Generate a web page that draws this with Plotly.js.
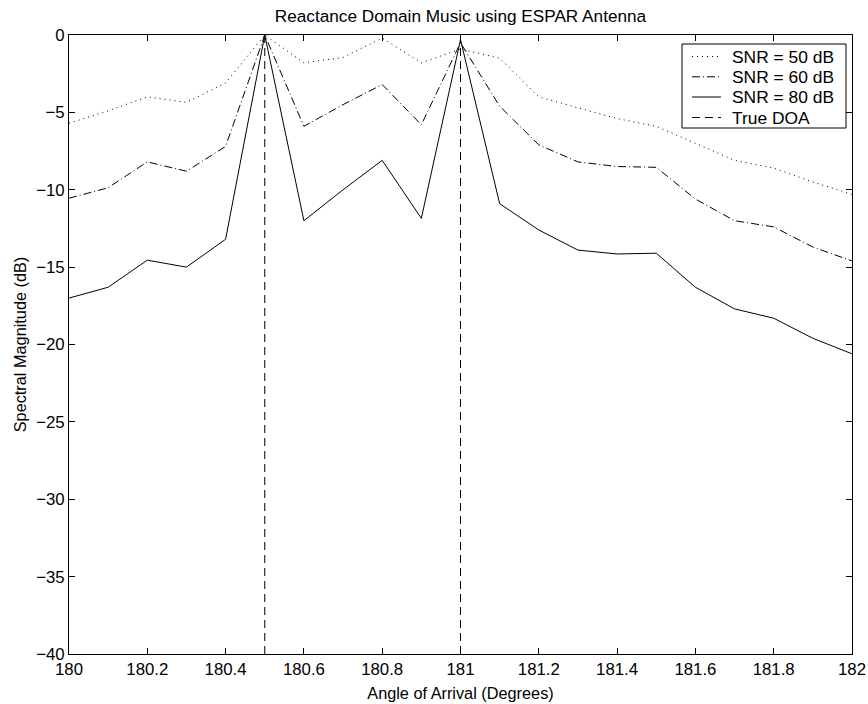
<!DOCTYPE html>
<html>
<head>
<meta charset="utf-8">
<script src="https://cdn.plot.ly/plotly-3.0.1.min.js"></script>
<style>html,body{margin:0;padding:0;background:#fff;}</style>
</head>
<body>
<div id="chart" style="width:868px;height:704px;"></div>
<script>
// Data
const angles = [180.0, 180.1, 180.2, 180.3, 180.4, 180.5, 180.6, 180.7, 180.8, 180.9, 181.0,
                181.1, 181.2, 181.3, 181.4, 181.5, 181.6, 181.7, 181.8, 181.9, 182.0];
const snr50 = [-5.7, -4.9, -4.0, -4.35, -3.1, 0, -1.8, -1.45, -0.2, -1.8, -0.9,
               -1.5, -4.0, -4.7, -5.4, -5.9, -7.0, -8.1, -8.6, -9.5, -10.3];
const snr60 = [-10.55, -9.87, -8.2, -8.8, -7.2, 0, -5.9, -4.5, -3.2, -5.8, -0.5,
               -4.6, -7.1, -8.2, -8.5, -8.55, -10.6, -12.0, -12.4, -13.7, -14.6];
const snr80 = [-17.0, -16.3, -14.55, -15.0, -13.2, 0, -12.0, -10.0, -8.1, -11.85, -0.3,
               -10.9, -12.6, -13.9, -14.15, -14.1, -16.3, -17.7, -18.3, -19.6, -20.6];
const doaAngles = [180.5, 181.0];
const seriesNames = ['SNR = 50 dB', 'SNR = 60 dB', 'SNR = 80 dB', 'True DOA'];
const xTickVals = [180, 180.2, 180.4, 180.6, 180.8, 181, 181.2, 181.4, 181.6, 181.8, 182];
const xTickText = ['180', '180.2', '180.4', '180.6', '180.8', '181', '181.2', '181.4', '181.6', '181.8', '182'];
const yTickVals = [-40, -35, -30, -25, -20, -15, -10, -5, 0];
const yRange = [-40, 0];

const FONT = 'Liberation Sans, Arial, Helvetica, sans-serif';
const W = 868, H = 704;
const M = {l: 69, r: 16, t: 35, b: 50};
const PW = W - M.l - M.r, PH = H - M.t - M.b;
const px2x = p => (p - M.l) / PW;
const px2y = p => (H - M.b - p) / PH;

const doaX = [], doaY = [];
doaAngles.forEach((a, i) => {
  if (i > 0) { doaX.push(null); doaY.push(null); }
  doaX.push(a, a); doaY.push(yRange[1], yRange[0]);
});

const lineStyles = [
  {color: '#000', width: 1, dash: '1px,4px'},
  {color: '#000', width: 1, dash: '8px,3px,1px,3px'},
  {color: '#000', width: 1, dash: 'solid'},
  {color: '#000', width: 1, dash: '8px,5px'}
];

const traces = [
  {x: angles, y: snr50, name: seriesNames[0], mode: 'lines', line: lineStyles[0]},
  {x: angles, y: snr60, name: seriesNames[1], mode: 'lines', line: lineStyles[1]},
  {x: angles, y: snr80, name: seriesNames[2], mode: 'lines', line: lineStyles[2]},
  {x: doaX, y: doaY, name: seriesNames[3], mode: 'lines', line: lineStyles[3]}
];

// Custom MATLAB-style legend box
const legBox = {x0: 682, x1: 846, y0: 44, y1: 128};
const rowCenters = [56.5, 76.8, 97, 117.5];
const shapes = [{
  type: 'rect', xref: 'paper', yref: 'paper',
  x0: px2x(legBox.x0), x1: px2x(legBox.x1), y0: px2y(legBox.y1), y1: px2y(legBox.y0),
  line: {color: '#000', width: 1}, fillcolor: '#fff', layer: 'above'
}];
const annotations = [];
seriesNames.forEach((nm, i) => {
  shapes.push({type: 'line', xref: 'paper', yref: 'paper',
    x0: px2x(692), x1: px2x(721), y0: px2y(rowCenters[i]), y1: px2y(rowCenters[i]),
    line: lineStyles[i], layer: 'above'});
  annotations.push({xref: 'paper', yref: 'paper', x: px2x(730), y: px2y(rowCenters[i]),
    xanchor: 'left', yanchor: 'middle', showarrow: false, text: nm,
    font: {family: FONT, size: 17.4, color: '#000'}});
});

const axisCommon = {
  showline: true, linecolor: '#000', linewidth: 1, mirror: 'ticks',
  ticks: 'inside', ticklen: 6, tickcolor: '#000', tickwidth: 1,
  showgrid: false, zeroline: false,
  tickfont: {family: FONT, size: 16.8, color: '#000'}
};

const layout = {
  width: W, height: H,
  margin: {l: M.l, r: M.r, t: M.t, b: M.b, pad: 0},
  paper_bgcolor: '#fff', plot_bgcolor: '#fff',
  font: {family: FONT, color: '#000', size: 16},
  title: {text: 'Reactance Domain Music using ESPAR Antenna',
          font: {family: FONT, size: 17.2, color: '#000'},
          xref: 'paper', x: 0.5, xanchor: 'center',
          yref: 'container', y: 0.977, yanchor: 'middle'},
  xaxis: Object.assign({}, axisCommon, {
    range: [angles[0], angles[angles.length - 1]],
    tickmode: 'array', tickvals: xTickVals, ticktext: xTickText,
    title: {text: 'Angle of Arrival (Degrees)', font: {family: FONT, size: 16.3, color: '#000'}, standoff: 9}
  }),
  yaxis: Object.assign({}, axisCommon, {
    range: yRange,
    tickmode: 'array', tickvals: yTickVals,
    title: {text: 'Spectral Magnitude (dB)', font: {family: FONT, size: 16.3, color: '#000'}, standoff: 5}
  }),
  showlegend: false,
  shapes: shapes,
  annotations: annotations
};

Plotly.newPlot('chart', traces, layout, {displayModeBar: false, staticPlot: true});
</script>
</body>
</html>
